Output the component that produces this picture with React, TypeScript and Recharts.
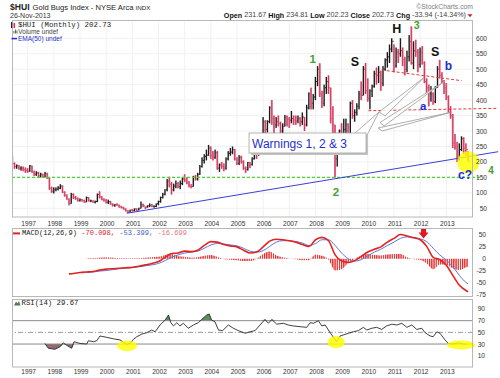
import React from 'react';
import {
  ComposedChart, Bar, Line, Area, XAxis, YAxis, CartesianGrid,
  ReferenceLine, ReferenceDot,
} from 'recharts';

const FONT = '"Liberation Sans", Arial, sans-serif';
const MONO = '"Liberation Mono", "DejaVu Sans Mono", monospace';

// ---------- price data (monthly, first bar = June 1996) ----------
const firstMonth = 1996 + 5 / 12;
const highs = [
  219, 198, 192, 190, 186, 185, 182,
  180, 190, 188, 172, 170, 168, 165, 162, 168, 165, 150, 120,
  118, 118, 122, 128, 124, 105, 95, 82, 100, 98, 90, 85,
  82, 80, 78, 88, 86, 78, 76, 75, 98, 105, 90, 82,
  80, 78, 74, 66, 64, 66, 62, 58, 55, 50, 44, 46,
  48, 50, 50, 52, 72, 65, 56, 60, 66, 64, 60, 66,
  75, 88, 100, 112, 145, 152, 135, 130, 140, 135, 140, 150,
  160, 150, 138, 128, 155, 158, 165, 190, 215, 225, 240, 255,
  250, 235, 240, 235, 195, 200, 195, 215, 235, 245, 250, 242,
  215, 222, 220, 205, 185, 200, 200, 215, 245, 245, 255, 275,
  345, 335, 335, 380, 400, 350, 345, 350, 330, 325, 352, 350,
  345, 365, 350, 350, 350, 345, 360, 345, 385, 425, 440, 420,
  475, 510, 519, 430, 450, 475, 480, 440, 380, 320, 260, 305,
  325, 340, 340, 325, 395, 400, 370, 390, 430, 460, 510, 520,
  470, 435, 450, 495, 505, 510, 495, 510, 535, 555, 580, 600,
  580, 570, 565, 600, 570, 540, 560, 610, 638, 590, 595, 565,
  570, 575, 525, 470, 450, 445, 425, 445, 510, 530, 490, 465,
  455, 415, 380, 355, 290, 265, 260, 283, 280, 260, 235,
];
const lows = [
  192, 178, 178, 175, 172, 170, 165,
  165, 168, 165, 155, 155, 150, 150, 148, 150, 145, 110, 100,
  98, 105, 108, 112, 100, 88, 78, 60, 65, 80, 78, 72,
  72, 72, 68, 70, 72, 70, 68, 66, 70, 82, 76, 72,
  66, 64, 62, 56, 55, 58, 52, 50, 46, 40, 35, 37,
  40, 40, 42, 43, 50, 54, 48, 52, 54, 54, 52, 54,
  60, 68, 82, 92, 105, 118, 95, 105, 115, 115, 112, 125,
  135, 128, 118, 115, 120, 140, 140, 158, 182, 195, 205, 220,
  210, 205, 210, 175, 168, 178, 170, 175, 205, 220, 225, 205,
  190, 190, 195, 175, 165, 172, 180, 188, 208, 210, 220, 245,
  270, 290, 295, 325, 320, 285, 310, 315, 290, 290, 315, 315,
  310, 325, 320, 320, 325, 315, 320, 300, 315, 370, 370, 370,
  400, 445, 410, 375, 380, 420, 420, 325, 270, 150, 185, 235,
  270, 280, 265, 275, 290, 340, 330, 350, 370, 400, 415, 420,
  395, 370, 410, 440, 450, 455, 430, 445, 495, 505, 520, 555,
  490, 505, 520, 540, 510, 480, 490, 525, 515, 500, 540, 490,
  505, 515, 455, 420, 380, 395, 385, 390, 440, 470, 455, 420,
  400, 360, 340, 245, 240, 200, 205, 235, 225, 220, 202,
];
const closes = [
  195, 185, 188, 180, 180, 175, 172,
  170, 187, 168, 160, 165, 155, 160, 152, 162, 148, 115, 105,
  110, 112, 115, 122, 102, 92, 80, 65, 95, 85, 82, 75,
  78, 75, 70, 85, 74, 74, 70, 72, 95, 88, 80, 76,
  70, 72, 64, 60, 62, 60, 55, 52, 48, 42, 38, 44,
  42, 48, 44, 50, 62, 58, 54, 58, 60, 56, 56, 65,
  72, 85, 95, 110, 138, 128, 110, 122, 130, 120, 130, 145,
  142, 135, 122, 120, 150, 145, 160, 185, 205, 218, 222, 245,
  220, 215, 230, 180, 190, 185, 180, 210, 228, 232, 240, 210,
  195, 215, 200, 180, 175, 198, 192, 210, 240, 225, 250, 270,
  330, 305, 330, 375, 340, 320, 330, 325, 300, 315, 345, 338,
  335, 340, 335, 332, 340, 330, 345, 320, 375, 420, 390, 410,
  460, 500, 420, 390, 440, 460, 440, 340, 320, 210, 240, 300,
  285, 305, 320, 290, 390, 350, 360, 380, 420, 415, 500, 430,
  405, 430, 445, 485, 480, 490, 455, 500, 530, 540, 565, 590,
  510, 555, 550, 560, 530, 500, 540, 590, 520, 560, 555, 515,
  555, 520, 460, 440, 420, 420, 395, 440, 500, 480, 460, 440,
  410, 370, 350, 260, 250, 210, 240, 275, 245, 240, 203,
];

const yearTicks = [1997, 1998, 1999, 2000, 2001, 2002, 2003, 2004, 2005, 2006, 2007, 2008, 2009, 2010, 2011, 2012, 2013];
const priceTicks = [50, 100, 150, 200, 250, 300, 350, 400, 450, 500, 550, 600];
const macdTicks = [-75, -50, -25, 0, 25, 50];
const rsiTicks = [10, 30, 50, 70, 90];

// ---------- MACD (quarterly readings) ----------
const macdTimes: number[] = [1998.58, 1998.75];
for (let k = 0; k < 60; k++) macdTimes.push(1999 + k * 0.25);
macdTimes.push(2013.83);
const macdValues = [
  -32, -31,
  -29, -28, -27, -24,
  -22, -21, -20, -19,
  -18, -16, -13, -10,
  -6, 3, 11, 12,
  16, 15, 18, 28,
  36, 35, 30, 27,
  25, 18, 12, 14,
  25, 37, 41, 40,
  38, 35, 30, 26,
  40, 45, 38, 8,
  -5, -8, -4, 5,
  14, 20, 25, 35,
  43, 51, 48, 44,
  40, 26, 3, -2,
  -14, -35, -56, -67,
  -70,
];
const signalValues = [
  null, null,
  null, -29, -28, -26,
  -25, -23, -21, -20,
  -19, -17, -15, -13,
  -10, -4, 3, 8,
  12, 14, 16, 22,
  29, 32, 31, 29,
  27, 22, 16, 14,
  17, 26, 35, 38,
  38, 36, 33, 28,
  32, 40, 40, 28,
  12, 0, -5, -2,
  6, 14, 20, 28,
  35, 43, 46, 45,
  42, 36, 22, 8,
  -3, -17, -35, -50,
  -53,
];
const histValues = [
  null, null,
  null, 1, 1, 2,
  3, 2, 1, 1,
  1, 1, 2, 3,
  4, 8, 10, 5,
  4, 2, 3, 6,
  8, 4, -1, -2,
  -3, -5, -5, 0,
  10, 15, 7, 3,
  0, -1, -3, -3,
  9, 6, -2, -25,
  -22, -9, 0, 7,
  10, 8, 7, 9,
  10, 10, 3, -1,
  -2, -10, -22, -12,
  -13, -20, -24, -18,
  -17,
];

// ---------- RSI(14) readings ----------
const rsiTimes = [
  1997.66, 1997.79, 1998.04, 1998.24, 1998.36, 1998.49, 1998.68, 1998.77, 1999.0, 1999.26,
  1999.32, 1999.51, 1999.64, 1999.76, 2000.02, 2000.27, 2000.53, 2000.79, 2000.91, 2001.04,
  2001.17, 2001.36, 2001.55, 2001.74, 2001.87, 2002.06, 2002.25, 2002.38, 2002.47, 2002.57,
  2002.7, 2002.82, 2002.95, 2003.14, 2003.33, 2003.52, 2003.65, 2003.84, 2003.94, 2004.03,
  2004.16, 2004.29, 2004.45, 2004.67, 2004.86, 2005.05, 2005.31, 2005.5, 2005.69, 2005.88,
  2006.07, 2006.2, 2006.33, 2006.52, 2006.77, 2006.96, 2007.15, 2007.41, 2007.67, 2007.79,
  2007.92, 2008.11, 2008.24, 2008.37, 2008.56, 2008.81, 2008.94, 2009.06, 2009.26, 2009.45,
  2009.64, 2009.83, 2009.96, 2010.15, 2010.34, 2010.53, 2010.72, 2010.92, 2011.11, 2011.3,
  2011.49, 2011.68, 2011.87, 2012.06, 2012.19, 2012.38, 2012.5, 2012.64, 2012.76, 2012.95,
  2013.08, 2013.27, 2013.46, 2013.65, 2013.78,
];
const rsiValues = [
  31, 22.7, 21, 25.5, 32, 28, 22.7, 34, 31, 30,
  35.7, 34, 35.7, 43.8, 41.5, 39, 37, 29.5, 31, 38,
  42.6, 47, 49.4, 54, 51, 62.6, 71, 79.7, 66.5, 61,
  66.5, 61, 65.5, 57, 62.6, 66.5, 72, 79.7, 81.4, 71,
  68, 54, 53, 62.6, 57, 53, 48.4, 51, 53, 62.6,
  72, 65.5, 72, 64, 65.5, 62.6, 61, 59.7, 58.6, 66.5,
  65.5, 70, 61, 62.6, 49.4, 34, 43.8, 45.5, 48.4, 51,
  53, 58.6, 54, 57, 58.6, 55, 61, 64, 62.6, 65.5,
  58.6, 62.6, 55, 57, 49.4, 43.8, 42.6, 51, 48.4, 37,
  31, 30, 32, 30, 29.7,
];

// ---------- derived tables for the library ----------
const priceData = closes.map((c, i) => ({
  t: firstMonth + i / 12,
  range: [lows[i], highs[i]],
  close: c,
  up: i > 0 && c >= closes[i - 1],
}));
const macdData = macdTimes.map((t, i) => ({
  t, macd: macdValues[i], signal: signalValues[i], hist: histValues[i],
}));
const rsiData = rsiTimes.map((t, i) => ({
  t, rsi: rsiValues[i],
  ob: Math.max(rsiValues[i], 70),
  os: Math.min(rsiValues[i], 30),
}));

const X_DOMAIN: [number, number] = [1996.40, 2014.02];

const OhlcShape = (props: any) => {
  const { x, y, width, height, payload } = props;
  if (x == null || y == null) return null;
  const top = Math.min(y, y + height);
  const h = Math.max(Math.abs(height), 1);
  const cx = x + width / 2;
  const [lo, hi] = payload.range;
  const cy = top + ((hi - payload.close) / Math.max(hi - lo, 0.001)) * h;
  if (payload.up) {
    return (
      <g>
        <rect x={cx - 0.7} y={top} width={1.4} height={h} fill="#1c1c1c" />
        <rect x={cx + 0.7} y={cy - 0.5} width={1.2} height={1} fill="#1c1c1c" />
      </g>
    );
  }
  return (
    <g>
      <rect x={cx - 1} y={top} width={2} height={h} fill="#e58aa0" />
      <rect x={cx - 0.5} y={top} width={1} height={h} fill="#d3365c" />
      <rect x={cx + 0.7} y={cy - 0.5} width={1.2} height={1} fill="#d3365c" />
    </g>
  );
};

const makeRightTick = (dx: number) => (props: any) => {
  const { x, y, payload } = props;
  return (
    <text x={x + dx} y={y} textAnchor="end" dominantBaseline="central"
      fontSize={6.6} fontFamily={FONT} fill="#333">{payload.value}</text>
  );
};
const makeYearTick = (dy: number) => (props: any) => {
  const { x, y, payload } = props;
  return (
    <text x={x + 1} y={y + dy} textAnchor="middle" dominantBaseline="central"
      fontSize={6.6} fontFamily={FONT} fill="#333">{payload.value}</text>
  );
};

const textMark = (txt: string, color: string, size: number) => (p: any) => (
  <text x={p.cx} y={p.cy} textAnchor="middle" dominantBaseline="central"
    fill={color} fontSize={size} fontWeight="bold" fontFamily={FONT}>{txt}</text>
);

const yellowDisc = (rx: number, ry: number) => (p: any) => (
  <ellipse cx={p.cx} cy={p.cy} rx={rx} ry={ry} fill="#ffff00" fillOpacity={0.82} />
);

const Callout = (p: any) => {
  const x = p.cx;
  const y = p.cy;
  const wedge = (pts: number[][]) => (
    <polygon points={pts.map(([a, b]) => `${x + a},${y + b}`).join(' ')}
      fill="#ffffff" fillOpacity={0.85} stroke="#9a9a9a" strokeWidth={0.8} />
  );
  return (
    <g>
      <rect x={x + 2} y={y + 2} width={117} height={20} fill="#c4c4c4" />
      {wedge([[106, 0], [130, -21], [117, 4]])}
      {wedge([[130, -21], [136, -17], [174.5, -55]])}
      {wedge([[131, -10.5], [135, -7], [196, -52]])}
      {wedge([[129, -5], [133, -2], [201, -20.5]])}
      <rect x={x} y={y} width={117} height={20} fill="#ffffff" stroke="#a0a0a0" strokeWidth={0.8} />
      <text x={x + 3} y={y + 10.5} dominantBaseline="central" fontSize={12}
        fontFamily={FONT} fill="#1d2fd0">Warnings 1, 2 &amp; 3</text>
    </g>
  );
};

const RedArrow = (p: any) => {
  const { cx, cy } = p;
  return (
    <polygon
      points={`${cx - 2.5},${cy - 5} ${cx + 2.5},${cy - 5} ${cx + 2.5},${cy} ${cx + 5},${cy} ${cx},${cy + 6} ${cx - 5},${cy} ${cx - 2.5},${cy}`}
      fill="#e3161b" />
  );
};

const GREEN = '#46a02c';
const BLUE = '#1d2fd0';

export default function App() {
  return (
    <div style={{ position: 'absolute', left: 0, top: 0, width: 500, height: 378, background: '#fff', overflow: 'hidden' }}>
      {/* main price panel */}
      <div style={{ position: 'absolute', left: 0, top: 0 }}>
        <ComposedChart width={500} height={228} data={priceData}
          margin={{ top: 20, right: 0, bottom: 0, left: 12 }}>
          <CartesianGrid stroke="#f1f1f1" horizontalValues={priceTicks} verticalValues={yearTicks} />
          <XAxis dataKey="t" type="number" domain={X_DOMAIN} allowDataOverflow ticks={yearTicks}
            interval={0} height={11} tickSize={0} tickMargin={0} axisLine={false} tickLine={false}
            tick={makeYearTick(6)} />
          <YAxis orientation="right" type="number" domain={[22, 659]} allowDataOverflow ticks={priceTicks}
            interval={0} width={27} tickSize={0} tickMargin={0} axisLine={false} tickLine={false}
            tick={makeRightTick(14)} />
          <ReferenceLine segment={[{ x: 1996.4, y: 150 }, { x: 2014.29, y: 150 }]} stroke="#4fd12f"
            strokeWidth={1.1} strokeDasharray="3 2" ifOverflow="visible" />
          <ReferenceLine segment={[{ x: 2010.53, y: 497.3 }, { x: 2013.59, y: 462.7 }]} stroke="#e8393a"
            strokeDasharray="3 2" ifOverflow="visible" />
          <ReferenceLine segment={[{ x: 2010.02, y: 365.7 }, { x: 2014.99, y: 373.5 }]} stroke="#e8393a"
            strokeDasharray="3 2" ifOverflow="visible" />
          <Bar dataKey="range" barSize={2} shape={OhlcShape} isAnimationActive={false} />
          <ReferenceLine segment={[{ x: 2000.785, y: 34 }, { x: 2014.98, y: 233.1 }]} stroke="#3a3fd6"
            strokeWidth={1} ifOverflow="visible" />
          <ReferenceDot x={2013.84} y={198.9} r={11} shape={yellowDisc(11, 11)} ifOverflow="visible" />
          <ReferenceDot x={2005.46} y={293.6} r={1} shape={Callout} ifOverflow="visible" />
          <ReferenceDot x={2007.895} y={531.9} r={1} shape={textMark('1', GREEN, 11.5)} ifOverflow="visible" />
          <ReferenceDot x={2009.51} y={524.2} r={1} shape={textMark('S', '#111', 12.5)} ifOverflow="visible" />
          <ReferenceDot x={2011.106} y={628.9} r={1} shape={textMark('H', '#111', 12.5)} ifOverflow="visible" />
          <ReferenceDot x={2011.87} y={643} r={1} shape={textMark('3', GREEN, 10.5)} ifOverflow="visible" />
          <ReferenceDot x={2012.57} y={556.5} r={1} shape={textMark('S', '#111', 12.5)} ifOverflow="visible" />
          <ReferenceDot x={2013.08} y={510.3} r={1} shape={textMark('b', BLUE, 12)} ifOverflow="visible" />
          <ReferenceDot x={2012.12} y={380.9} r={1} shape={textMark('a', BLUE, 11.5)} ifOverflow="visible" />
          <ReferenceDot x={2008.785} y={101.9} r={1} shape={textMark('2', GREEN, 11.5)} ifOverflow="visible" />
          <ReferenceDot x={2013.716} y={157.8} r={1} shape={textMark('c?', BLUE, 12)} ifOverflow="visible" />
          <ReferenceDot x={2014.71} y={172.3} r={1} shape={textMark('4', GREEN, 10)} ifOverflow="visible" />
        </ComposedChart>
      </div>

      {/* MACD panel */}
      <div style={{ position: 'absolute', left: 0, top: 228 }}>
        <ComposedChart width={500} height={69} data={macdData}
          margin={{ top: 0, right: 0, bottom: 0, left: 12 }}>
          <defs>
            <pattern id="macdHatch" width="2.2" height="4" patternUnits="userSpaceOnUse">
              <rect x="0" y="0" width="1.3" height="4" fill="#e02a2a" />
            </pattern>
          </defs>
          <XAxis dataKey="t" type="number" domain={X_DOMAIN} allowDataOverflow hide />
          <YAxis orientation="right" type="number" domain={[-80.7, 64.75]} allowDataOverflow ticks={macdTicks}
            interval={0} width={27} tickSize={0} tickMargin={0} axisLine={false} tickLine={false}
            tick={makeRightTick(13)} />
          <Area dataKey="hist" type="monotone" baseValue={0} fill="url(#macdHatch)" fillOpacity={1}
            stroke="none" isAnimationActive={false} connectNulls={false} />
          <Line dataKey="signal" type="monotone" stroke="#5a78d8" strokeWidth={1} dot={false}
            isAnimationActive={false} />
          <Line dataKey="macd" type="monotone" stroke="#e3221f" strokeWidth={1.6} dot={false}
            isAnimationActive={false} />
          <ReferenceDot x={2012.13} y={55.3} r={1} shape={RedArrow} ifOverflow="visible" />
        </ComposedChart>
      </div>

      {/* RSI panel */}
      <div style={{ position: 'absolute', left: 0, top: 299 }}>
        <ComposedChart width={500} height={79} data={rsiData}
          margin={{ top: 0, right: 0, bottom: 0, left: 12 }}>
          <XAxis dataKey="t" type="number" domain={X_DOMAIN} allowDataOverflow ticks={yearTicks}
            interval={0} height={11} tickSize={0} tickMargin={0} axisLine={false} tickLine={false}
            tick={makeYearTick(4.8)} />
          <YAxis orientation="right" type="number" domain={[-9.3, 107.1]} allowDataOverflow ticks={rsiTicks}
            interval={0} width={27} tickSize={0} tickMargin={0} axisLine={false} tickLine={false}
            tick={makeRightTick(12)} />
          <ReferenceLine y={70} stroke="#8a8a8a" strokeWidth={1} />
          <ReferenceLine y={30} stroke="#8a8a8a" strokeWidth={1} />
          <ReferenceLine y={50} stroke="#9a9a9a" strokeWidth={1} strokeDasharray="5 2 1 2" />
          <ReferenceDot x={2000.8} y={27} r={1} shape={yellowDisc(10, 5.3)} ifOverflow="visible" />
          <ReferenceDot x={2008.79} y={33.2} r={1} shape={yellowDisc(8.5, 6.2)} ifOverflow="visible" />
          <ReferenceDot x={2013.57} y={28.4} r={1} shape={yellowDisc(14.2, 4.4)} ifOverflow="visible" />
          <Area dataKey="ob" type="linear" baseValue={70} fill="#4f7c4f" fillOpacity={0.9} stroke="none"
            isAnimationActive={false} />
          <Area dataKey="os" type="linear" baseValue={30} fill="#8c5b5e" fillOpacity={0.9} stroke="none"
            isAnimationActive={false} />
          <Line dataKey="rsi" type="linear" stroke="#2a2a2a" strokeWidth={0.9} dot={false}
            isAnimationActive={false} />
        </ComposedChart>
      </div>

      {/* frames, header and legends */}
      <svg width={500} height={378} style={{ position: 'absolute', left: 0, top: 0, pointerEvents: 'none' }}>
        <rect x={12.5} y={20.5} width={460} height={196.5} fill="none" stroke="#b8b8b8" />
        <rect x={12.5} y={228.5} width={460} height={68} fill="none" stroke="#b8b8b8" />
        <rect x={12.5} y={299.5} width={460} height={67.5} fill="none" stroke="#b8b8b8" />

        <text x={10} y={7} dominantBaseline="central" fontFamily={FONT} fontSize={7.6} fill="#222">
          <tspan fontWeight="bold" fontSize={8.6}>$HUI</tspan>
          <tspan dx={3}>Gold Bugs Index - NYSE Arca </tspan>
          <tspan fontSize={6.2}>INDX</tspan>
        </text>
        <text x={473} y={6.5} textAnchor="end" dominantBaseline="central" fontFamily={FONT}
          fontSize={6.8} fill="#808080">©StockCharts.com</text>
        <text x={10} y={15.6} dominantBaseline="central" fontFamily={FONT} fontSize={7}
          fill="#333">26-Nov-2013</text>
        <text x={466} y={14.8} textAnchor="end" dominantBaseline="central" fontFamily={FONT}
          fontSize={7.2} fill="#444">
          <tspan fontWeight="bold" fill="#111">Open</tspan> 231.67 <tspan fontWeight="bold" fill="#111">High</tspan> 234.81 <tspan fontWeight="bold" fill="#111">Low</tspan> 202.23 <tspan fontWeight="bold" fill="#111">Close</tspan> 202.73 <tspan fontWeight="bold" fill="#111">Chg</tspan> -33.94 (-14.34%)
        </text>
        <polygon points="467.5,14.3 472.5,14.3 470,17.3" fill="#c81e2e" />

        {/* price legend */}
        <rect x={11} y={22} width={1.2} height={6} fill="#222" />
        <rect x={13.5} y={23} width={1.6} height={5} fill="#d3365c" />
        <text x={18} y={25.2} dominantBaseline="central" fontFamily={MONO} fontSize={7.4}
          fill="#222">$HUI (Monthly) 202.73</text>
        <rect x={13.5} y={31} width={0.9} height={2.5} fill="#555" />
        <rect x={15} y={29.5} width={0.9} height={4} fill="#555" />
        <rect x={16.5} y={30.5} width={0.9} height={3} fill="#555" />
        <text x={18.3} y={31.9} dominantBaseline="central" fontFamily={FONT} fontSize={6.5}
          fill="#444">Volume undef</text>
        <line x1={11.5} x2={17} y1={38.6} y2={38.6} stroke={BLUE} strokeWidth={1.5} />
        <text x={18} y={38.8} dominantBaseline="central" fontFamily={FONT} fontSize={6.5}
          fill={BLUE}>EMA(50) undef</text>

        {/* MACD legend */}
        <line x1={13} x2={20} y1={233.4} y2={233.4} stroke="#e3221f" strokeWidth={2} />
        <text x={22} y={233.4} dominantBaseline="central" fontFamily={MONO} fontSize={7.05} fill="#222">
          MACD(12,26,9) <tspan fill="#e3221f">-70.098,</tspan> <tspan fill="#3d5fcf">-53.399,</tspan> <tspan fill="#ea6f7f">-16.699</tspan>
        </text>

        {/* RSI legend */}
        <polygon points="14,305.5 16,301.5 17.5,303.5 19,301 20.5,305.5" fill="#4f7c4f" />
        <text x={21.5} y={303.3} dominantBaseline="central" fontFamily={MONO} fontSize={7.3}
          fill="#222">RSI(14) 29.67</text>
      </svg>
    </div>
  );
}
